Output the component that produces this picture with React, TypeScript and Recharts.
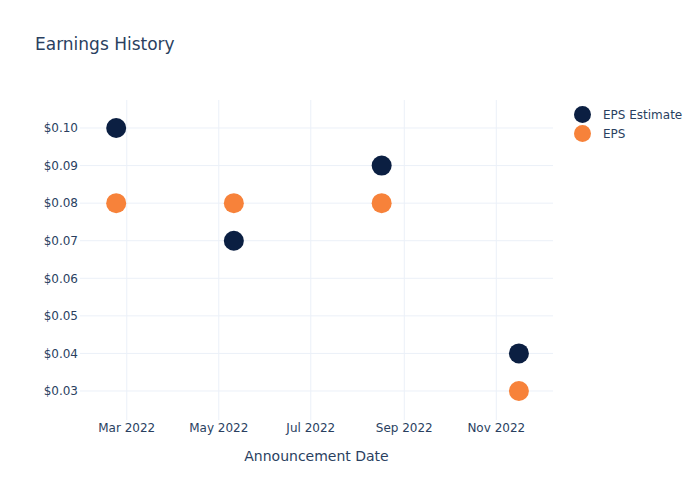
import { ScatterChart, Scatter, XAxis, YAxis, CartesianGrid } from "recharts";

const dates = ["2022-02-22", "2022-05-11", "2022-08-17", "2022-11-16"];
const epsEstimate = [0.1, 0.07, 0.09, 0.04];
const eps = [0.08, 0.08, 0.08, 0.03];
const monthTicks = ["2022-03-01", "2022-05-01", "2022-07-01", "2022-09-01", "2022-11-01"];
const yTicks = [0.03, 0.04, 0.05, 0.06, 0.07, 0.08, 0.09, 0.1];

const NAVY = "#0b1f42";
const ORANGE = "#f7823a";
const TEXT = "#2a3f5f";
const GRID = "#ebf0f8";
const FONT = "'DejaVu Sans', Verdana, sans-serif";
const MONTHS = ["Jan", "Feb", "Mar", "Apr", "May", "Jun", "Jul", "Aug", "Sep", "Oct", "Nov", "Dec"];

const toTime = (s: string) => new Date(s + "T00:00:00Z").getTime();
const DAY = 86400000;

const estimateData = dates.map((d, i) => ({ x: toTime(d), y: epsEstimate[i] }));
const epsData = dates.map((d, i) => ({ x: toTime(d), y: eps[i] }));

const dot = (color: string) => (p: any) => <circle cx={p.cx} cy={p.cy} r={10} fill={color} />;

const X_MIN = toTime("2022-01-29");
const X_MAX = toTime("2022-12-08") + 0.6 * DAY;
const Y_MIN = 0.02228;
const Y_MAX = 0.10745;

// plot area in pixels: x 80..553, y 100..420
const PL = 80, PR = 553, PT = 100, PB = 420;
const xPix = (t: number) => PL + ((t - X_MIN) / (X_MAX - X_MIN)) * (PR - PL);
const yPix = (v: number) => PB - ((v - Y_MIN) / (Y_MAX - Y_MIN)) * (PB - PT);

export default function App() {
  return (
    <div style={{ position: "absolute", left: 0, top: 0, width: 700, height: 500, fontFamily: FONT, background: "#fff" }}>
      <div style={{ position: "absolute", left: 35, top: 34, fontSize: 17, color: TEXT }}>Earnings History</div>
      <ScatterChart width={700} height={500} margin={{ top: PT, right: 700 - PR, bottom: 0, left: 0 }}>
        <CartesianGrid
          stroke={GRID}
          strokeWidth={1}
          horizontalPoints={yTicks.map(yPix)}
          verticalPoints={monthTicks.map(toTime).map(xPix)}
        />
        <XAxis
          type="number"
          dataKey="x"
          domain={[X_MIN, X_MAX]}
          ticks={monthTicks.map(toTime)}
          tickFormatter={(t: number) => {
            const d = new Date(t);
            return MONTHS[d.getUTCMonth()] + " " + d.getUTCFullYear();
          }}
          axisLine={false}
          tickLine={false}
          tickSize={0}
          tickMargin={3}
          height={500 - PB}
          tick={{ fill: TEXT, fontSize: 12, fontFamily: FONT }}
          allowDataOverflow
        />
        <YAxis
          type="number"
          dataKey="y"
          domain={[Y_MIN, Y_MAX]}
          ticks={yTicks}
          tickFormatter={(v: number) => "$" + v.toFixed(2)}
          axisLine={false}
          tickLine={false}
          tickSize={0}
          tickMargin={2}
          width={PL}
          tick={{ fill: TEXT, fontSize: 12, fontFamily: FONT }}
          allowDataOverflow
        />
        <Scatter name="EPS Estimate" data={estimateData} fill={NAVY} shape={dot(NAVY)} isAnimationActive={false} />
        <Scatter name="EPS" data={epsData} fill={ORANGE} shape={dot(ORANGE)} isAnimationActive={false} />
      </ScatterChart>
      <div style={{ position: "absolute", left: 0, width: 633, top: 448, textAlign: "center", fontSize: 14, color: TEXT }}>
        Announcement Date
      </div>
      <div style={{ position: "absolute", left: 574, top: 105, fontSize: 12, color: TEXT }}>
        {[
          { name: "EPS Estimate", color: NAVY },
          { name: "EPS", color: ORANGE },
        ].map((item) => (
          <div key={item.name} style={{ display: "flex", alignItems: "center", height: 19 }}>
            <div style={{ width: 17, height: 17, borderRadius: "50%", background: item.color, marginRight: 12 }} />
            <span>{item.name}</span>
          </div>
        ))}
      </div>
    </div>
  );
}
